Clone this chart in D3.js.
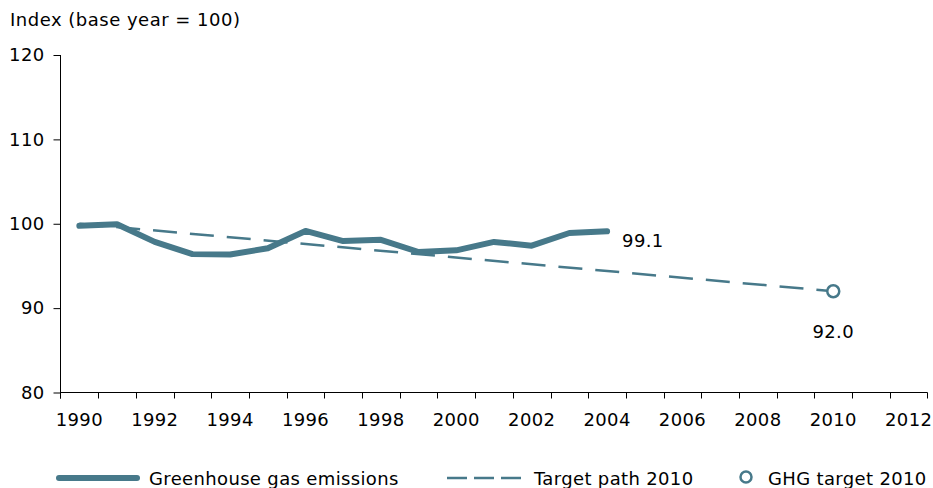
<!DOCTYPE html>
<html>
<head>
<meta charset="utf-8">
<script src="https://cdn.jsdelivr.net/npm/d3@7"></script>
<style>
  body { margin: 0; background: #fff; }
  text { font-family: "DejaVu Sans", Verdana, sans-serif; fill: #000; letter-spacing: 0.35px; }
</style>
</head>
<body>
<svg id="chart" width="933" height="488"></svg>
<script>
// data
var years = d3.range(1990, 2013);
var emissionYears = [1990, 1991, 1992, 1993, 1994, 1995, 1996, 1997, 1998, 1999, 2000, 2001, 2002, 2003, 2004];
var emissionValues = [99.75, 99.95, 97.85, 96.4, 96.35, 97.1, 99.15, 97.95, 98.1, 96.65, 96.85, 97.85, 97.4, 98.9, 99.1];
var targetPathYears = [1990, 2010];
var targetPathValues = [100, 92.0];
var targetYear = 2010;
var targetValue = 92.0;
var yTicks = [80, 90, 100, 110, 120];
var legendLabels = ["Greenhouse gas emissions", "Target path 2010", "GHG target 2010"];

var colour = "#47798a";
var svg = d3.select("#chart");

var x = d3.scaleBand()
    .domain(years)
    .range([60.5, 927.5]);
var y = d3.scaleLinear()
    .domain([80, 120])
    .range([392.5, 55]);

function cx(yr) { return x(yr) + x.bandwidth() / 2; }

// y axis
var yAxis = svg.append("g")
    .attr("transform", "translate(60.5,0)")
    .call(d3.axisLeft(y).tickValues(yTicks).tickSize(7).tickPadding(9));
yAxis.select(".domain").attr("d", "M0," + y(120) + "V" + (y(80) + 6));

// x axis, ticks on band edges and labels on every other year
var xAxis = svg.append("g").attr("transform", "translate(0,392.5)");
xAxis.append("line")
    .attr("x1", 60.5).attr("x2", 927.5)
    .attr("stroke", "#000");
xAxis.selectAll("line.tk")
    .data(years.concat([2013]))
    .enter().append("line")
    .attr("class", "tk")
    .attr("x1", function(d){ return d === 2013 ? 927.5 : Math.round(x(d)) + 0.5; })
    .attr("x2", function(d){ return d === 2013 ? 927.5 : Math.round(x(d)) + 0.5; })
    .attr("y1", 0).attr("y2", 6)
    .attr("stroke", "#000");
xAxis.selectAll("text")
    .data(years.filter(function(d){ return d % 2 === 0; }))
    .enter().append("text")
    .attr("x", function(d){ return cx(d); })
    .attr("y", 33)
    .attr("text-anchor", "middle")
    .style("font-size", "18px")
    .text(function(d){ return d; });

svg.selectAll(".tick text").style("font-size", "18px").attr("fill", "#000");
svg.selectAll(".domain, .tick line").attr("stroke", "#000");

svg.append("text")
    .attr("x", 10).attr("y", 26)
    .style("font-size", "18px")
    .style("letter-spacing", "0.5px")
    .text("Index (base year = 100)");

// target path (dashed)
var pathLine = d3.line()
    .x(function(d){ return cx(d[0]); })
    .y(function(d){ return y(d[1]); });

svg.append("path")
    .attr("d", pathLine(d3.zip(targetPathYears, targetPathValues)))
    .attr("fill", "none")
    .attr("stroke", colour)
    .attr("stroke-width", 2.5)
    .attr("stroke-dasharray", "24,13");

// emissions
svg.append("path")
    .attr("d", pathLine(d3.zip(emissionYears, emissionValues)))
    .attr("fill", "none")
    .attr("stroke", colour)
    .attr("stroke-width", 6)
    .attr("stroke-linecap", "round")
    .attr("stroke-linejoin", "round");

// target point
svg.append("circle")
    .attr("cx", cx(targetYear))
    .attr("cy", y(targetValue))
    .attr("r", 6)
    .attr("fill", "#fff")
    .attr("stroke", colour)
    .attr("stroke-width", 2.5);

svg.append("text")
    .attr("x", cx(2004) + 15)
    .attr("y", y(emissionValues[emissionValues.length - 1]) + 16)
    .style("font-size", "18px")
    .text(emissionValues[emissionValues.length - 1].toFixed(1));

svg.append("text")
    .attr("x", cx(targetYear))
    .attr("y", y(targetValue) + 47)
    .attr("text-anchor", "middle")
    .style("font-size", "18px")
    .text(targetValue.toFixed(1));

// legend
var lg = svg.append("g");
lg.append("line")
    .attr("x1", 59).attr("x2", 137).attr("y1", 478).attr("y2", 478)
    .attr("stroke", colour).attr("stroke-width", 6).attr("stroke-linecap", "round");
lg.append("text").attr("x", 149).attr("y", 485).style("font-size", "18px").text(legendLabels[0]);
lg.append("line")
    .attr("x1", 447).attr("x2", 521).attr("y1", 478).attr("y2", 478)
    .attr("stroke", colour).attr("stroke-width", 2.5).attr("stroke-dasharray", "20,7");
lg.append("text").attr("x", 534).attr("y", 485).style("font-size", "18px").text(legendLabels[1]);
lg.append("circle")
    .attr("cx", 746).attr("cy", 477).attr("r", 5.5)
    .attr("fill", "#fff").attr("stroke", colour).attr("stroke-width", 2.5);
lg.append("text").attr("x", 768).attr("y", 485).style("font-size", "18px").text(legendLabels[2]);
</script>
</body>
</html>
